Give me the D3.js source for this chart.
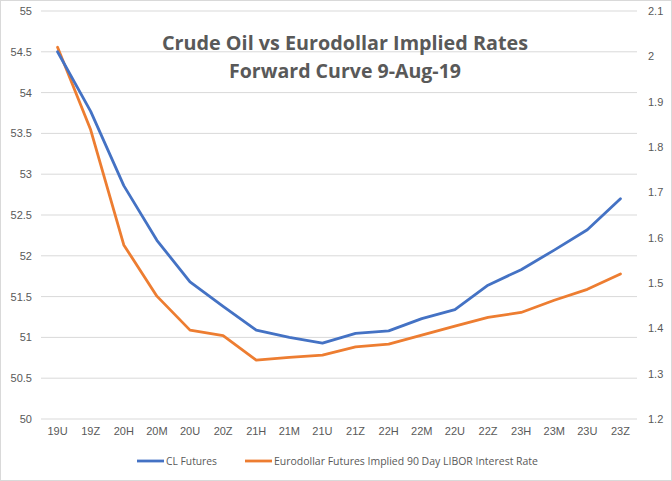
<!DOCTYPE html>
<html><head><meta charset="utf-8">
<script src="https://cdn.jsdelivr.net/npm/d3@7"></script>
<style>body{margin:0;background:#fff;}svg{display:block;font-family:"Open Sans","Liberation Sans",sans-serif;}</style>
</head><body>
<svg id="c" width="672" height="481"></svg>
<script>
const categories = ["19U","19Z","20H","20M","20U","20Z","21H","21M","21U","21Z","22H","22M","22U","22Z","23H","23M","23U","23Z"];
const clFutures = [54.50,53.77,52.86,52.19,51.68,51.38,51.09,51.00,50.93,51.05,51.08,51.23,51.34,51.64,51.83,52.07,52.32,52.70];
const eurodollarRates = [2.02,1.838,1.584,1.471,1.396,1.384,1.330,1.336,1.341,1.359,1.365,1.385,1.405,1.424,1.435,1.462,1.486,1.520];
const leftTicks = [50,50.5,51,51.5,52,52.5,53,53.5,54,54.5,55];
const rightTicks = [1.2,1.3,1.4,1.5,1.6,1.7,1.8,1.9,2.0,2.1];
const seriesNames = ["CL Futures","Eurodollar Futures Implied 90 Day LIBOR Interest Rate"];
const titleLines = ["Crude Oil vs Eurodollar Implied Rates","Forward Curve 9-Aug-19"];

const svg = d3.select("#c");
const W=672,H=481;
const plot={left:41,right:637,top:11,bottom:419};
const blue="#4472C4", orange="#ED7D31", txt="#595959", grid="#D9D9D9";

svg.append("rect").attr("x",0.5).attr("y",0.5).attr("width",W-1).attr("height",H-1)
  .attr("fill","#fff").attr("stroke",grid);

const x=d3.scaleBand().domain(categories).range([plot.left,plot.right]);
const yL=d3.scaleLinear().domain([50,55]).range([plot.bottom,plot.top]);
const yR=d3.scaleLinear().domain([1.2,2.1]).range([plot.bottom,plot.top]);

// gridlines
svg.append("g").selectAll("line").data(leftTicks).join("line")
  .attr("x1",plot.left).attr("x2",plot.right)
  .attr("y1",d=>yL(d)).attr("y2",d=>yL(d))
  .attr("stroke",grid).attr("stroke-width",1);

// left axis
const la=svg.append("g").attr("transform",`translate(${plot.left-9},0)`)
  .call(d3.axisLeft(yL).tickValues(leftTicks).tickSize(0).tickPadding(0).tickFormat(d3.format("")));
la.select(".domain").remove();
la.selectAll("text").attr("fill",txt).style("font-size","11px");

// right axis
const ra=svg.append("g").attr("transform",`translate(${plot.right+11},0)`)
  .call(d3.axisRight(yR).tickValues(rightTicks).tickSize(0).tickPadding(0).tickFormat(d=>d3.format("")(+d.toFixed(1))));
ra.select(".domain").remove();
ra.selectAll("text").attr("fill",txt).style("font-size","11px");

// bottom axis
const ba=svg.append("g").attr("transform",`translate(0,${plot.bottom+8})`)
  .call(d3.axisBottom(x).tickSize(0).tickPadding(0));
ba.select(".domain").remove();
ba.selectAll("text").attr("fill",txt).style("font-size","11px");

const lineL=d3.line().x(d=>x(d.c)+x.bandwidth()/2).y(d=>yL(d.v));
const lineR=d3.line().x(d=>x(d.c)+x.bandwidth()/2).y(d=>yR(d.v));

svg.append("path").datum(categories.map((c,i)=>({c,v:eurodollarRates[i]})))
  .attr("d",lineR).attr("fill","none").attr("stroke",orange).attr("stroke-width",2.8)
  .attr("stroke-linejoin","round").attr("stroke-linecap","round");
svg.append("path").datum(categories.map((c,i)=>({c,v:clFutures[i]})))
  .attr("d",lineL).attr("fill","none").attr("stroke",blue).attr("stroke-width",2.8)
  .attr("stroke-linejoin","round").attr("stroke-linecap","round");

// title
svg.append("text").attr("x",345).attr("y",50).attr("text-anchor","middle")
  .attr("fill",txt).style("font-size","20px").style("font-weight","bold")
  .attr("textLength",366).attr("lengthAdjust","spacingAndGlyphs").text(titleLines[0]);
svg.append("text").attr("x",345).attr("y",78).attr("text-anchor","middle")
  .attr("fill",txt).style("font-size","20px").style("font-weight","bold")
  .attr("textLength",232).attr("lengthAdjust","spacingAndGlyphs").text(titleLines[1]);

// legend
const leg=[{x:137,c:blue,tl:51},{x:245,c:orange,tl:264}];
leg.forEach((l,i)=>{
  svg.append("line").attr("x1",l.x).attr("x2",l.x+27).attr("y1",461).attr("y2",461)
    .attr("stroke",l.c).attr("stroke-width",2.8);
  svg.append("text").attr("x",l.x+29).attr("y",465).attr("fill",txt).style("font-size","11px")
    .attr("textLength",l.tl).attr("lengthAdjust","spacingAndGlyphs").text(seriesNames[i]);
});
</script>
</body></html>
